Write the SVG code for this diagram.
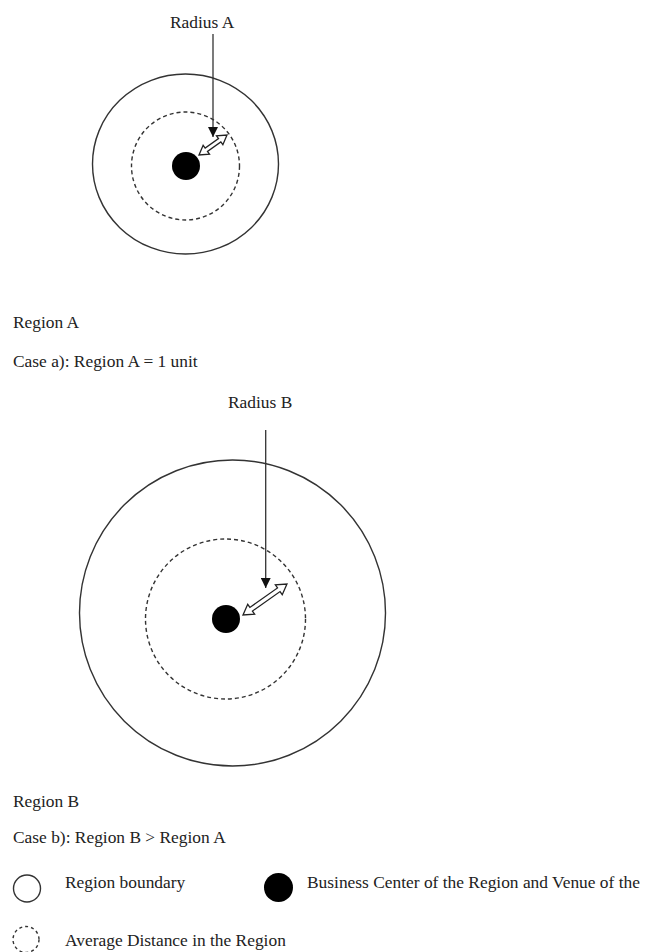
<svg xmlns="http://www.w3.org/2000/svg" width="651" height="952" viewBox="0 0 651 952">
<style>
  text { font-family: "Liberation Serif", "Times New Roman", serif; font-size: 17.4px; fill: #222; }
  .solid { fill: none; stroke: #333; stroke-width: 1.4; }
  .dash { fill: none; stroke: #333; stroke-width: 1.4; stroke-dasharray: 4 3; }
  .dot { fill: #000; }
  .line { stroke: #333; stroke-width: 1.3; fill: none; }
  .dbl { fill: #fff; stroke: #222; stroke-width: 1.3; stroke-linejoin: miter; }
</style>
<defs>
  <marker id="tri" viewBox="0 0 10 10" refX="10" refY="5" markerWidth="10" markerHeight="10" markerUnits="userSpaceOnUse" orient="auto">
    <path d="M0,0 L10,5 L0,10 z" fill="#111"/>
  </marker>
</defs>
<rect width="651" height="952" fill="#fff"/>

<g id="regionA">
  <ellipse class="solid" cx="185.5" cy="164" rx="93" ry="90"/>
  <circle class="dash" cx="185.5" cy="166" r="54"/>
  <circle class="dot" cx="186" cy="166" r="14"/>
</g>
<g id="labelRadiusA"><text x="170" y="28">Radius A</text></g>
<g id="labelRegionA"><text x="13" y="328">Region A</text></g>
<g id="labelCaseA"><text x="13" y="367">Case a): Region A = 1 unit</text></g>

<g id="regionB">
  <circle class="solid" cx="232.5" cy="613" r="153"/>
  <circle class="dash" cx="225.5" cy="619" r="80"/>
  <circle class="dot" cx="226" cy="619" r="14"/>
</g>
<g id="labelRadiusB"><text x="228" y="408">Radius B</text></g>
<g id="labelRegionB"><text x="13" y="807">Region B</text></g>
<g id="labelCaseB"><text x="13" y="843">Case b): Region B &gt; Region A</text></g>

<g id="connectors">
  <line class="line" x1="213" y1="34" x2="213" y2="137" marker-end="url(#tri)"/>
  <polygon class="dbl" transform="translate(199,155) rotate(-35.5)" points="0,0 9,-5.5 9,-2 25.4,-2 25.4,-5.5 34.4,0 25.4,5.5 25.4,2 9,2 9,5.5"/>
  <line class="line" x1="265.7" y1="430" x2="265.7" y2="588" marker-end="url(#tri)"/>
  <polygon class="dbl" transform="translate(243,615) rotate(-35.2)" points="0,0 10,-6 10,-2.2 43.8,-2.2 43.8,-6 53.8,0 43.8,6 43.8,2.2 10,2.2 10,6"/>
</g>

<g id="legend">
  <g id="legendBoundary">
    <circle class="solid" cx="27" cy="888.5" r="13.5"/>
    <text x="65" y="888">Region boundary</text>
  </g>
  <g id="legendCenter">
    <circle class="dot" cx="278.5" cy="887.5" r="14.5"/>
    <text x="307" y="888">Business Center of the Region and Venue of the</text>
  </g>
  <g id="legendAverage">
    <circle class="dash" cx="26" cy="939.5" r="13" style="stroke-dasharray:3 3"/>
    <text x="65" y="946">Average Distance in the Region</text>
  </g>
</g>
</svg>
